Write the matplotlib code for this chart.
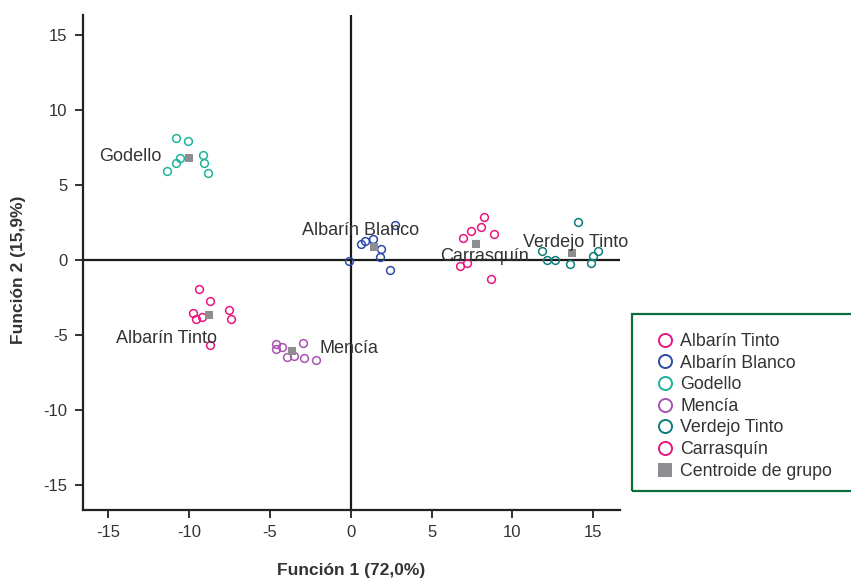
import matplotlib
matplotlib.use("Agg")
import matplotlib.pyplot as plt
from matplotlib.lines import Line2D
from matplotlib.patches import Rectangle

plt.rcParams['font.family'] = ['Liberation Sans', 'DejaVu Sans']

# ---- data ----
groups = ["Albarín Tinto", "Albarín Blanco", "Godello", "Mencía", "Verdejo Tinto", "Carrasquín"]
colors = ["#E8157F", "#2C4BA8", "#1DB39A", "#A655B0", "#0E7C7B", "#E8157F"]

albarin_tinto_x = [-9.40, -8.68, -9.73, -9.55, -9.18, -7.51, -7.39, -8.68]
albarin_tinto_y = [-1.93, -2.73, -3.53, -3.96, -3.82, -3.31, -3.93, -5.64]
albarin_blanco_x = [-0.10, 0.66, 0.86, 1.38, 1.89, 1.79, 2.45, 2.76]
albarin_blanco_y = [-0.04, 1.07, 1.29, 1.38, 0.76, 0.22, -0.67, 2.31]
godello_x = [-10.77, -10.04, -10.54, -10.80, -11.38, -9.16, -9.07, -8.81]
godello_y = [8.11, 7.95, 6.82, 6.47, 5.95, 6.98, 6.47, 5.82]
mencia_x = [-4.59, -4.63, -4.26, -2.94, -3.91, -3.50, -2.90, -2.16]
mencia_y = [-5.60, -5.96, -5.82, -5.56, -6.44, -6.40, -6.56, -6.67]
verdejo_x = [14.03, 11.81, 12.12, 12.61, 13.56, 14.88, 15.00, 15.31]
verdejo_y = [2.53, 0.60, -0.02, 0.00, -0.29, -0.18, 0.29, 0.60]
carrasquin_x = [8.23, 8.07, 7.41, 6.93, 8.85, 7.20, 6.77, 8.66]
carrasquin_y = [2.89, 2.22, 1.96, 1.49, 1.76, -0.22, -0.38, -1.27]

centroid_x = [-8.77, 1.42, -10.00, -3.60, 13.68, 7.72]
centroid_y = [-3.64, 0.84, 6.82, -6.07, 0.49, 1.04]

label_x = [-14.51, -3.00, -15.54, -1.95, 10.66, 5.51]
label_y = [-5.51, 1.67, 6.58, -6.20, 0.89, -0.05]

xticks = [-15, -10, -5, 0, 5, 10, 15]
yticks = [-15, -10, -5, 0, 5, 10, 15]
xlabel = "Función 1 (72,0%)"
ylabel = "Función 2 (15,9%)"
centroid_label = "Centroide de grupo"

series_x = [albarin_tinto_x, albarin_blanco_x, godello_x, mencia_x, verdejo_x, carrasquin_x]
series_y = [albarin_tinto_y, albarin_blanco_y, godello_y, mencia_y, verdejo_y, carrasquin_y]

# ---- figure ----
W, H = 851, 579
fig = plt.figure(figsize=(W / 100, H / 100), dpi=100)
ax = fig.add_axes([83 / W, 1 - 510 / H, (620 - 83) / W, (510 - 15) / H])

ax.set_xlim(-16.55, 16.65)
ax.set_ylim(-16.67, 16.33)

text_col = "#333333"
spine_col = "#222222"

for sp in ["top", "right"]:
    ax.spines[sp].set_visible(False)
for sp in ["left", "bottom"]:
    ax.spines[sp].set_linewidth(1.6)
    ax.spines[sp].set_color(spine_col)

ax.axhline(0, color="#1a1a1a", lw=1.6, zorder=1)
ax.axvline(0, color="#1a1a1a", lw=1.6, zorder=1)

ax.set_xticks(xticks)
ax.set_yticks(yticks)
ax.set_xticklabels([str(v) for v in xticks])
ax.set_yticklabels([str(v) for v in yticks])
ax.tick_params(axis="both", direction="out", length=6, width=1.3, color=spine_col,
               labelsize=12, labelcolor=text_col, pad=5)

for xs, ys, c in zip(series_x, series_y, colors):
    ax.plot(xs, ys, linestyle="none", marker="o", markersize=5.6,
            markerfacecolor="none", markeredgecolor=c, markeredgewidth=1.1, zorder=3)

ax.plot(centroid_x, centroid_y, linestyle="none", marker="s", markersize=5.8,
        color="#8E8E92", markeredgewidth=0, zorder=4)

for g, lx, ly in zip(groups, label_x, label_y):
    ax.text(lx, ly, g, fontsize=13, color=text_col, ha="left", va="baseline",
            zorder=5, clip_on=False)

fig.text(351 / W, 1 - 570 / H, xlabel, fontsize=12.5, fontweight="bold",
         color=text_col, ha="center", va="center")
fig.text(19 / W, 1 - 270 / H, ylabel, fontsize=12.5, fontweight="bold",
         color=text_col, ha="center", va="center", rotation=90)

# legend
handles = [Line2D([], [], linestyle="none", marker="o", markersize=9.4,
                  markerfacecolor="none", markeredgecolor=c, markeredgewidth=1.4)
           for c in colors]
handles.append(Line2D([], [], linestyle="none", marker="s", markersize=9.4,
                      color="#8E8E92", markeredgewidth=0))
labels = groups + [centroid_label]
leg = fig.legend(handles, labels, loc="upper left",
                 bbox_to_anchor=(655.8 / W, 1 - 333 / H),
                 frameon=False, borderpad=0, borderaxespad=0,
                 handlelength=1.0, handletextpad=0.38, labelspacing=0.26,
                 fontsize=12.8)
for t in leg.get_texts():
    t.set_color(text_col)

fig.patches.append(Rectangle((632 / W, 1 - 490.5 / H), (860 - 632) / W, (490.5 - 314) / H,
                             transform=fig.transFigure, fill=False,
                             edgecolor="#0B6E3A", linewidth=1.6, clip_on=False))

fig.savefig("out.png", dpi=100)
